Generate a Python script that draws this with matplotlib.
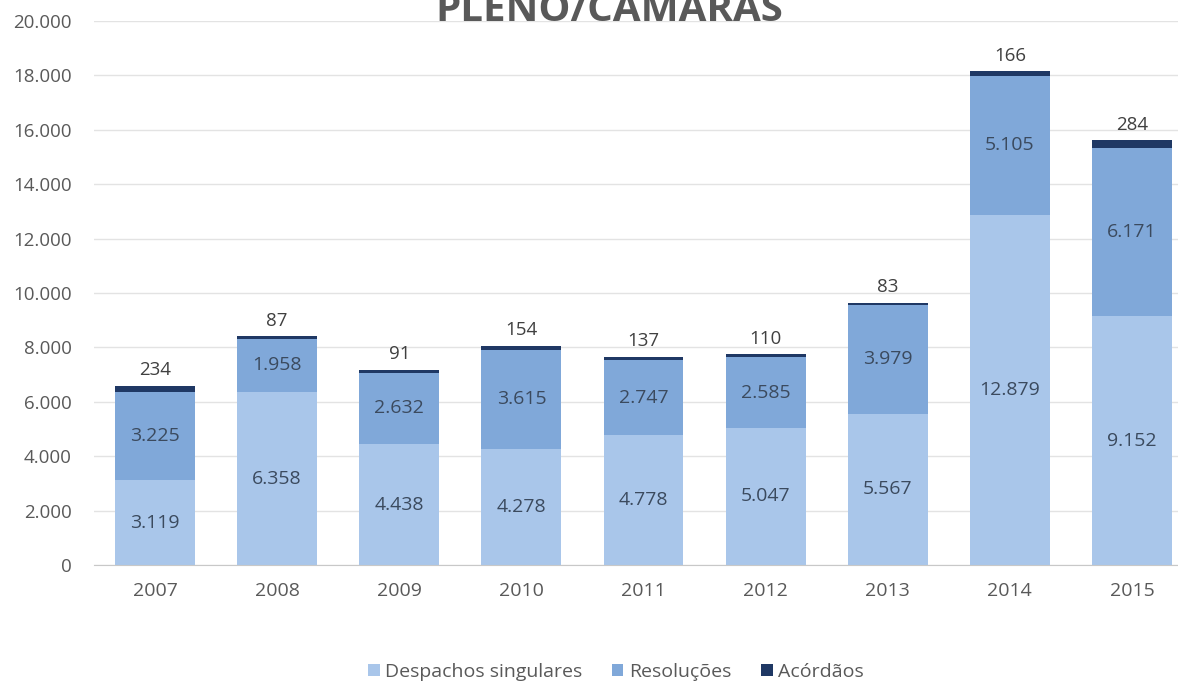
import numpy as np
import matplotlib
matplotlib.use("Agg")
import matplotlib.pyplot as plt
from matplotlib.ticker import FuncFormatter

plt.rcParams['font.family'] = ['Open Sans', 'DejaVu Sans']

years = ['2007', '2008', '2009', '2010', '2011', '2012', '2013', '2014', '2015']
despachos = [3119, 6358, 4438, 4278, 4778, 5047, 5567, 12879, 9152]
resolucoes = [3225, 1958, 2632, 3615, 2747, 2585, 3979, 5105, 6171]
acordaos = [234, 87, 91, 154, 137, 110, 83, 166, 284]

c_desp = '#a9c6ea'
c_res = '#80a8d9'
c_ac = '#1f3864'
txt = '#595959'
lbl = '#3b4a5e'


def fmt(v):
    return '{:,.0f}'.format(v).replace(',', '.')


fig = plt.figure(figsize=(11.78, 6.82), dpi=100)
ax = fig.add_axes([94 / 1178, 1 - 565 / 682, 1099 / 1178, 544 / 682])

x = np.arange(len(years))
w = 0.655
d = np.array(despachos)
r = np.array(resolucoes)
a = np.array(acordaos)

ax.bar(x, d, w, color=c_desp, label='Despachos singulares', zorder=2)
ax.bar(x, r, w, bottom=d, color=c_res, label='Resoluções', zorder=2)
ax.bar(x, a, w, bottom=d + r, color=c_ac, label='Acórdãos', zorder=2)

for i in range(len(years)):
    ax.text(x[i], d[i] / 2, fmt(d[i]), ha='center', va='center',
            fontsize=14, color=lbl, zorder=3)
    ax.text(x[i], d[i] + r[i] / 2, fmt(r[i]), ha='center', va='center',
            fontsize=14, color=lbl, zorder=3)
    ax.text(x[i], d[i] + r[i] + a[i] + 250, fmt(a[i]), ha='center', va='bottom',
            fontsize=13.5, color='#404040', zorder=3)

ax.set_xlim(-0.5, len(years) - 0.5)
ax.set_ylim(0, 20000)
ax.set_yticks(np.arange(0, 20001, 2000))
ax.yaxis.set_major_formatter(FuncFormatter(lambda v, p: fmt(v)))
ax.set_xticks(x)
ax.set_xticklabels(years)
ax.tick_params(axis='y', length=0, pad=16, labelsize=13.5, labelcolor=txt)
ax.tick_params(axis='x', length=0, pad=12, labelsize=14, labelcolor=txt)
ax.grid(axis='y', color='#e3e3e3', linewidth=1, zorder=0)
for s in ['top', 'right', 'left']:
    ax.spines[s].set_visible(False)
ax.spines['bottom'].set_color('#c8c8c8')
ax.spines['bottom'].set_zorder(4)

fig.text(609 / 1178, 1 - 21 / 682, 'PLENO/CÂMARAS', ha='center', va='baseline',
         fontsize=29, fontweight='bold', color=txt)

leg = fig.legend(loc='center', bbox_to_anchor=(616 / 1178, 1 - 672 / 682), ncol=3,
                 frameon=False, fontsize=14, handlelength=0.6, handleheight=0.6,
                 handletextpad=0.3, columnspacing=1.5)
for t in leg.get_texts():
    t.set_color(txt)

plt.savefig('out.png', dpi=100)
